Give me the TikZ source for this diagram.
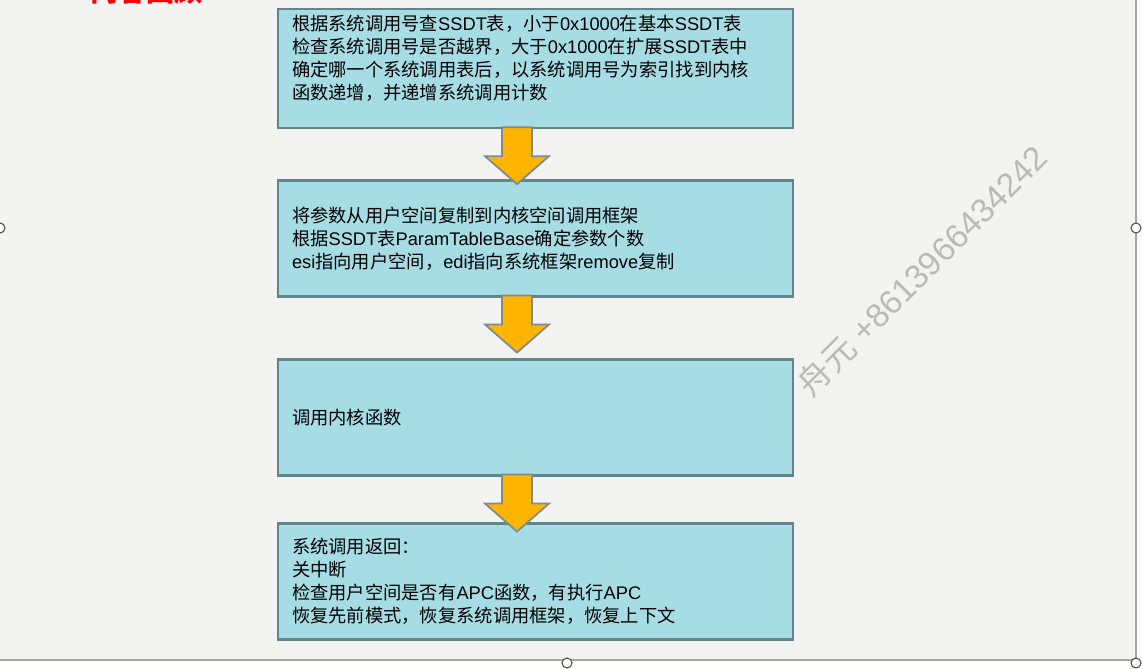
\documentclass[tikz,border=0pt]{standalone}
\usepackage{fontspec}
\setmainfont{Liberation Sans}
\newfontfamily\zhfont{Noto Sans CJK SC}
\newcommand{\zh}[1]{{\zhfont #1}}
\usetikzlibrary{positioning,calc}

\definecolor{boxfill}{RGB}{166,221,229}
\definecolor{boxline}{RGB}{96,134,140}
\definecolor{arrowfill}{RGB}{255,180,0}
\definecolor{arrowline}{RGB}{125,140,145}
\definecolor{pagebg}{RGB}{243,243,242}

% block arrow hanging below a box, a bit left of its middle
\newcommand{\downarrowblock}[1]{%
  \coordinate (#1-tail) at ($(#1.south)+(-18.5,0)$);
  \draw[blockarrow] ($(#1-tail)+(-15,-2)$) -- ($(#1-tail)+(15,-2)$)
    -- ($(#1-tail)+(15,27)$) -- ($(#1-tail)+(32,27)$)
    -- ($(#1-tail)+(0,55)$)
    -- ($(#1-tail)+(-32,27)$) -- ($(#1-tail)+(-15,27)$) -- cycle;}

\begin{document}
\begin{tikzpicture}[
  x=0.02cm, y=-0.02cm,
  stepbox/.style={rectangle, draw=boxline, fill=boxfill, line width=1.2pt, minimum width=10.3cm, minimum height=2.32cm, text width=9.74cm, inner xsep=0.28cm, align=left, font=\fontsize{10.4}{13.1}\selectfont},
  blockarrow/.style={draw=arrowline, fill=arrowfill, line width=1pt, line join=miter},
  handle/.style={circle, draw=black!70, fill=white, line width=0.6pt, minimum size=0.2cm, inner sep=0pt}
]
\useasboundingbox (0,0) rectangle (1143,669);
\fill[white] (0,0) rectangle (1143,669);
\fill[pagebg] (0,0) rectangle (1136,660);

% Title, cut off at the top
\node[anchor=base west, text=red, font=\fontsize{16}{16}\selectfont\bfseries\zhfont, inner sep=0pt] (title) at (90,2) {内容回顾};

% Watermark
\node[rotate=45, text=black!27, font=\fontsize{19}{19}\selectfont, inner sep=0pt] (mark) at (922,270) {\zh{舟元} +8613966434242};

% Step boxes
\node[stepbox] (lookup) at (535.5,68.5) {\zh{根据系统调用号查}SSDT\zh{表，小于}0x1000\zh{在基本}SSDT\zh{表}\\
\zh{检查系统调用号是否越界，大于}0x1000\zh{在扩展}SSDT\zh{表中}\\
\zh{确定哪一个系统调用表后，以系统调用号为索引找到内核}\\
\zh{函数递增，并递增系统调用计数}\\
~};
\node[stepbox] (copy) at (535.5,238.5) {\zh{将参数从用户空间复制到内核空间调用框架}\\
\zh{根据}SSDT\zh{表}ParamTableBase\zh{确定参数个数}\\
esi\zh{指向用户空间，}edi\zh{指向系统框架}remove\zh{复制}};
\node[stepbox] (call) at (535.5,417.5) {\zh{调用内核函数}};
\node[stepbox] (ret) at (535.5,581.5) {\zh{系统调用返回：}\\
\zh{关中断}\\
\zh{检查用户空间是否有}APC\zh{函数，有执行}APC\\
\zh{恢复先前模式，恢复系统调用框架，恢复上下文}};

% Arrows
\downarrowblock{lookup}
\downarrowblock{copy}
\downarrowblock{call}

% Slide frame and handles
\draw[black!35, line width=0.8pt] (1136,0) -- (1136,663);
\draw[black!35, line width=0.8pt] (0,660) -- (1136,660);
\node[handle] (hl) at (0,228) {};
\node[handle] (hr) at (1136,228) {};
\node[handle] (hb) at (567,663) {};
\node[handle] (hc) at (1136,663) {};

\end{tikzpicture}
\end{document}
